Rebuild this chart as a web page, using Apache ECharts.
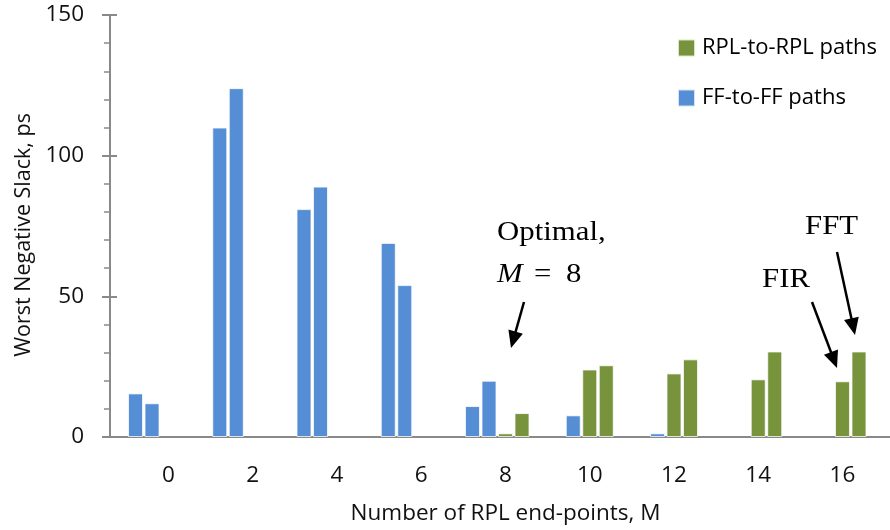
<!DOCTYPE html>
<html>
<head>
<meta charset="utf-8">
<script src="https://cdn.jsdelivr.net/npm/echarts@6/dist/echarts.min.js"></script>
<style>
  html, body { margin: 0; padding: 0; background: #fff; }
  #chart { width: 890px; height: 530px; }
</style>
</head>
<body>
<div id="chart"></div>
<script>
// Worst negative slack per number of RPL end-points (FIR and FFT designs)
const categories = ['0', '2', '4', '6', '8', '10', '12', '14', '16'];
const ffFir  = [15.5, 110, 81, 69, 11, null, null, null, null];
const ffFft  = [12, 124, 89, 54, 20, 7.7, 1.3, null, null];
const rplFir = [null, null, null, null, 1.3, 24, 22.6, 20.5, 19.8];
const rplFft = [null, null, null, null, 8.5, 25.5, 27.6, 30.4, 30.4];
const spacer = [null, null, null, null, null, null, null, null, null];

const yMin = 0, yMax = 150, yStep = 50, yMinorSplit = 5;
const nameFF = 'FF-to-FF paths';
const nameRPL = 'RPL-to-RPL paths';
const xTitle = 'Number of RPL end-points, M';
const yTitle = 'Worst Negative Slack, ps';

const BLUE = '#558ED5', GREEN = '#77933C', AXIS = '#898989';
const SANS = '"Open Sans", "Noto Sans", sans-serif';
const SERIF = '"Liberation Serif", "DejaVu Serif", serif';

const chart = echarts.init(document.getElementById('chart'));

function bar(name, data, color) {
  return {
    type: 'bar', name, data, xAxisIndex: 0, yAxisIndex: 0,
    barWidth: 15, barGap: '10%',
    itemStyle: { color, borderColor: 'rgba(255,255,255,0.75)', borderWidth: 1 },
    emphasis: { disabled: true }
  };
}

function arrow(x1, y1, x2, y2) {
  const dx = x2 - x1, dy = y2 - y1, len = Math.hypot(dx, dy);
  const ux = dx / len, uy = dy / len, hl = 17, hw = 7.5;
  const bx = x2 - ux * hl, by = y2 - uy * hl;
  return {
    type: 'group', children: [
      { type: 'line', shape: { x1, y1, x2: bx + ux * 2, y2: by + uy * 2 },
        style: { stroke: '#000', lineWidth: 2.5 } },
      { type: 'polygon',
        shape: { points: [[x2, y2], [bx - uy * hw, by + ux * hw], [bx + uy * hw, by - ux * hw]] },
        style: { fill: '#000' } }
    ]
  };
}

function label(text, x, y, italic) {
  return {
    type: 'text', x, y, scaleX: 1.1,
    style: { text, fontFamily: SERIF, fontSize: 28, fontStyle: italic ? 'italic' : 'normal',
             fill: '#000', textAlign: 'left', textVerticalAlign: 'middle', verticalAlign: 'middle' }
  };
}

chart.setOption({
  animation: false,
  grid: [
    { left: 126.4, right: 5.4, top: 15, bottom: 93, outerBoundsMode: 'none', containLabel: false },
    { left: 110, right: 0, top: 15, bottom: 93, outerBoundsMode: 'none', containLabel: false }
  ],
  legend: {
    orient: 'vertical', left: 677, top: 37, padding: 0,
    data: [nameRPL, nameFF],
    icon: 'rect', itemWidth: 17, itemHeight: 17, itemGap: 28,
    textStyle: { fontFamily: SANS, fontSize: 22, color: '#000', padding: [0, 0, 0, 2] },
    selectedMode: false
  },
  xAxis: [
    {
      type: 'category', gridIndex: 0, data: categories,
      axisLine: { show: false }, axisTick: { show: false },
      axisLabel: { fontFamily: SANS, fontSize: 22.5, color: '#111', margin: 27 },
      name: xTitle, nameLocation: 'middle', nameGap: 65,
      nameTextStyle: { fontFamily: SANS, fontSize: 22.5, color: '#111' }
    },
    {
      type: 'value', gridIndex: 1, min: 0, max: 1, position: 'bottom',
      axisLine: { show: true, lineStyle: { color: AXIS, width: 2 } },
      axisTick: { show: false }, axisLabel: { show: false }, splitLine: { show: false }
    },
    {
      type: 'value', gridIndex: 1, min: 0, max: 1, position: 'top',
      axisLine: { show: true, lineStyle: { color: AXIS, width: 2 } },
      axisTick: { show: false }, axisLabel: { show: false }, splitLine: { show: false }
    }
  ],
  yAxis: [
    {
      type: 'value', gridIndex: 0, min: yMin, max: yMax, interval: yStep, show: false
    },
    {
      type: 'value', gridIndex: 1, min: yMin, max: yMax, interval: yStep, position: 'left',
      axisLine: { show: true, lineStyle: { color: AXIS, width: 2 } },
      axisTick: { show: true, length: 8, lineStyle: { color: AXIS, width: 2 } },
      minorTick: { show: true, splitNumber: yMinorSplit, length: 6, lineStyle: { color: AXIS, width: 1.5 } },
      axisLabel: { fontFamily: SANS, fontSize: 22.5, color: '#111', margin: 26 },
      splitLine: { show: false },
      name: yTitle, nameLocation: 'middle', nameGap: 66, nameRotate: 90,
      nameTextStyle: { fontFamily: SANS, fontSize: 21.5, color: '#111', padding: [0, 18, 0, 0] }
    },
    {
      type: 'value', gridIndex: 1, min: yMin, max: yMax, interval: yStep, position: 'left',
      axisLine: { show: false },
      axisTick: { show: true, inside: true, length: 7, lineStyle: { color: AXIS, width: 2 } },
      axisLabel: { show: false }, splitLine: { show: false }
    }
  ],
  series: [
    bar(nameFF, ffFir, BLUE),
    bar(nameFF, ffFft, BLUE),
    bar(nameRPL, rplFir, GREEN),
    bar(nameRPL, rplFft, GREEN),
    bar('', spacer, '#fff')
  ],
  graphic: [
    label('Optimal,', 497, 232.5),
    label('M', 497, 274.5, true),
    label('=', 534, 274.5),
    label('8', 566, 274.5),
    label('FIR', 762, 280),
    label('FFT', 805, 226.5),
    arrow(524, 302, 511, 348),
    arrow(812, 302, 837, 368),
    arrow(837, 252, 855, 335)
  ]
});
</script>
</body>
</html>
